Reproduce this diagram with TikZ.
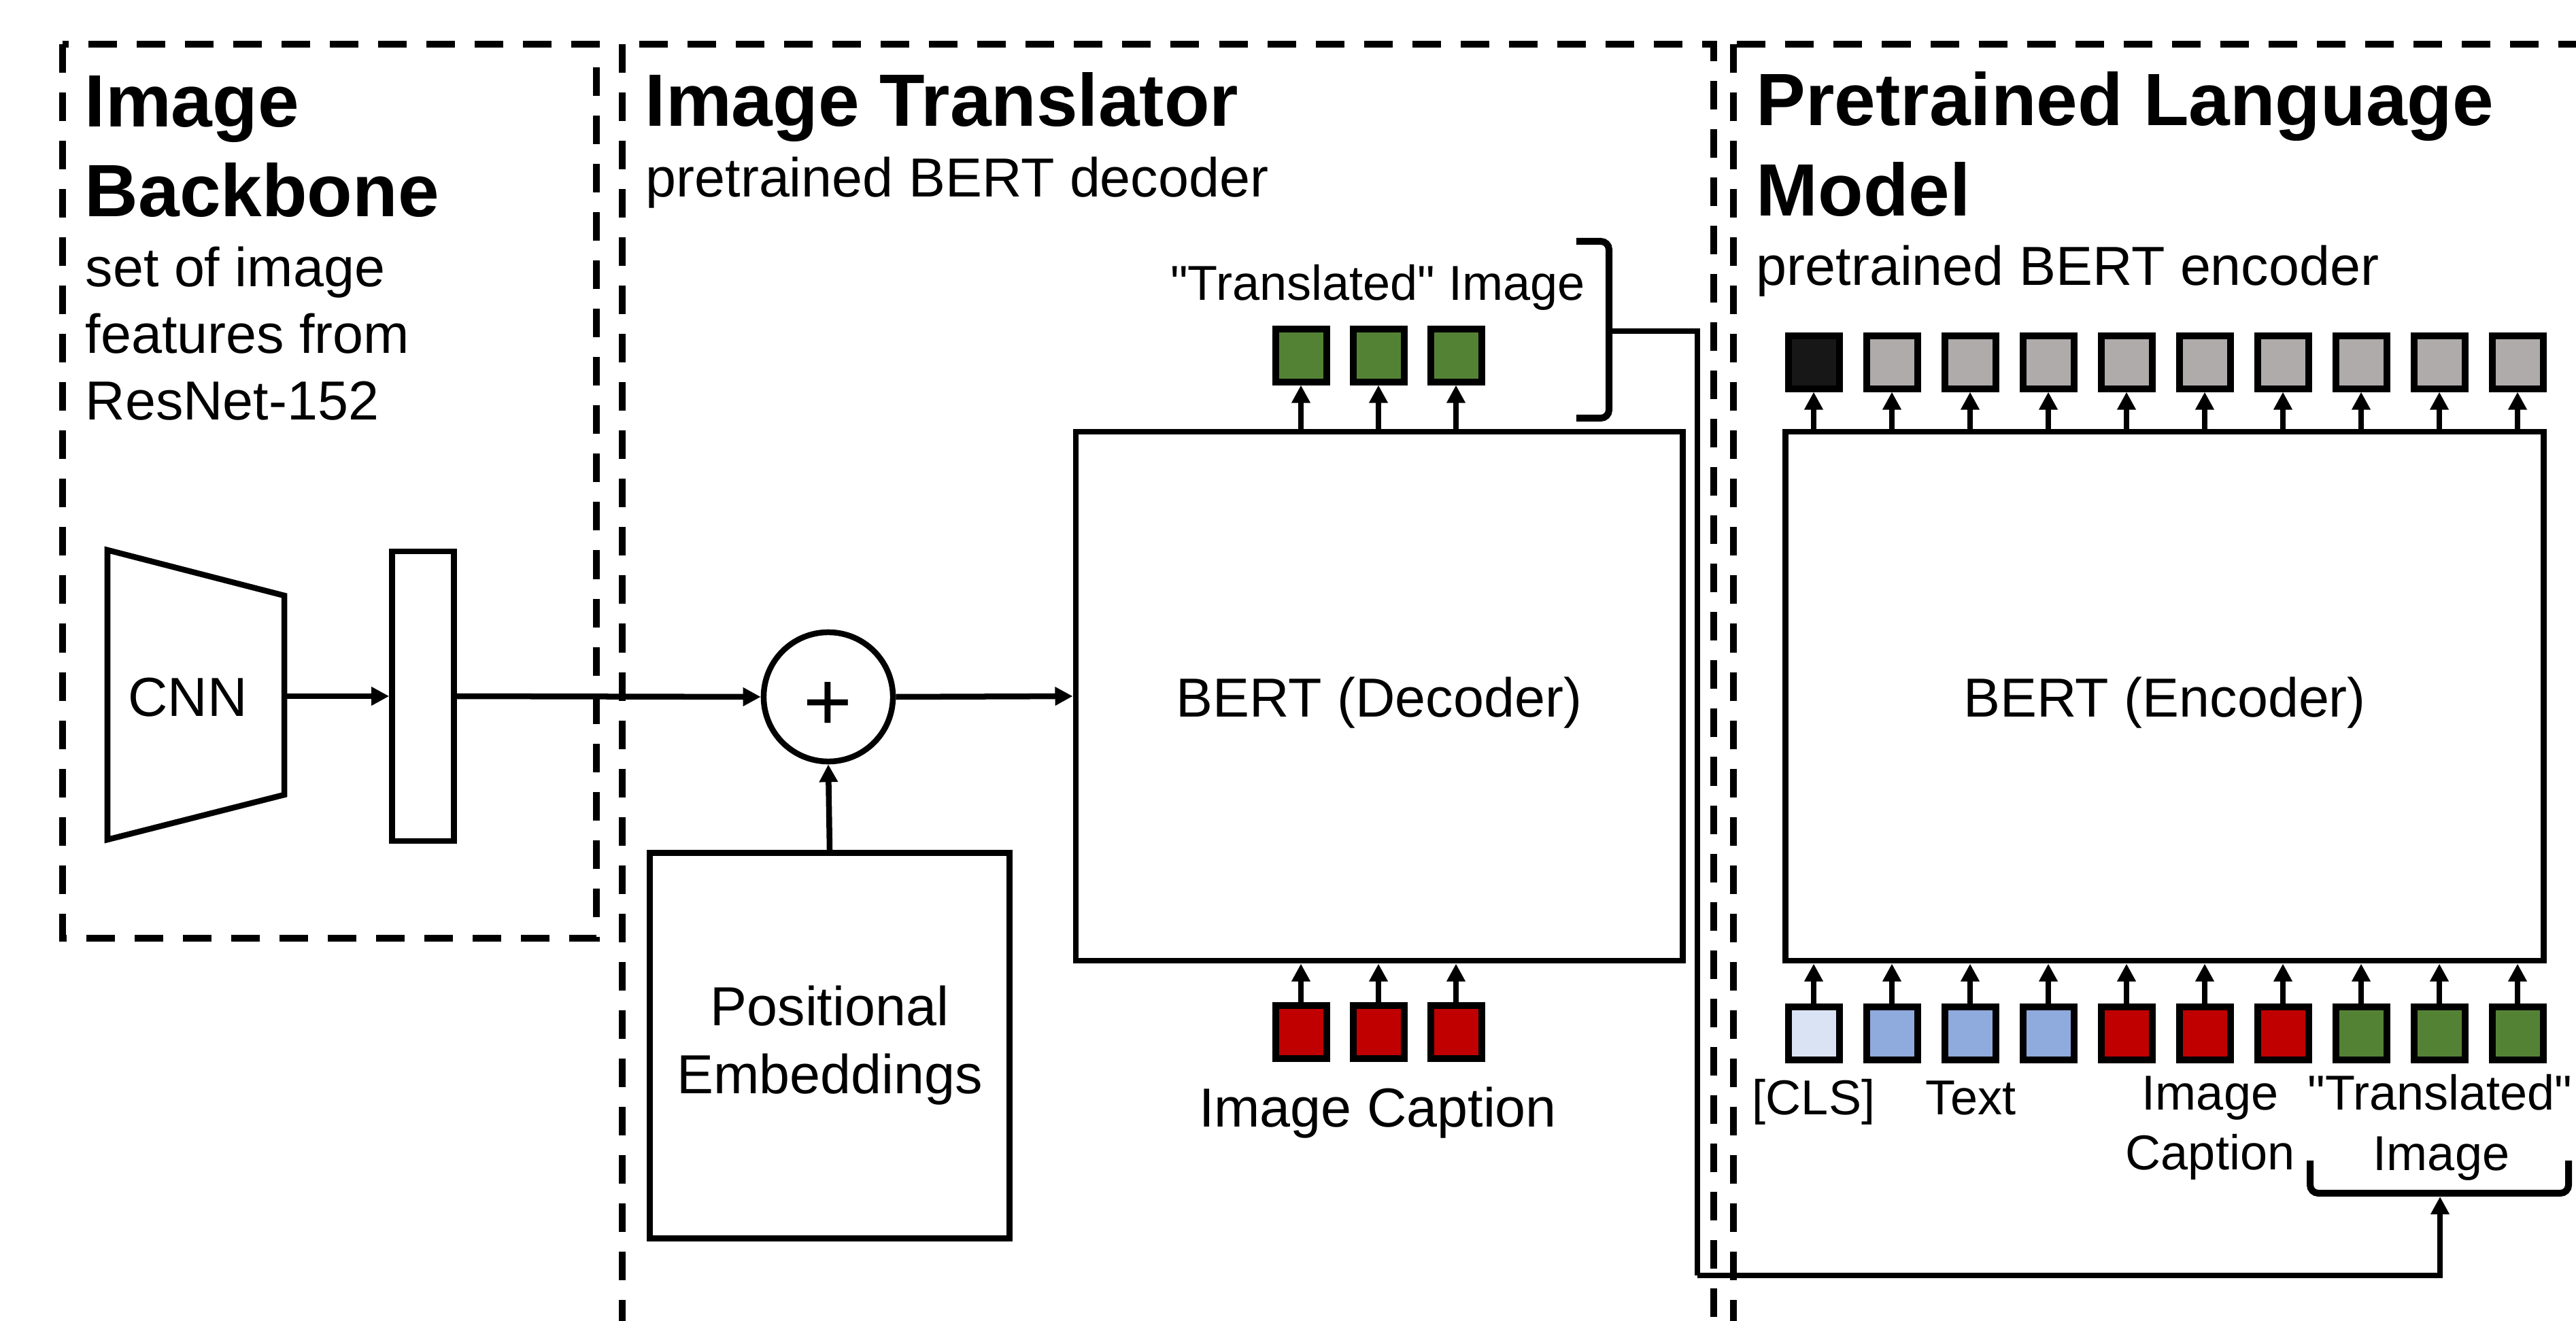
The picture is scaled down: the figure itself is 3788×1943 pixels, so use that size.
\documentclass[tikz,border=0pt]{standalone}
\usepackage{fontspec}
\setmainfont{Liberation Sans}[Ligatures=TeXOff]
\usetikzlibrary{arrows.meta}

% token fill colours
\definecolor{tokgreen}{HTML}{548235}
\definecolor{tokred}{HTML}{C00000}
\definecolor{tokblue}{HTML}{8FAADC}
\definecolor{toklight}{HTML}{DAE3F3}
\definecolor{tokgray}{HTML}{AFABAB}
\definecolor{tokdark}{HTML}{171717}

% type sizes
\newcommand\ttlfont{\fontsize{31}{37}\selectfont\bfseries}
\newcommand\regfont{\fontsize{23}{28.4}\selectfont}
\newcommand\lblfont{\fontsize{20.5}{25}\selectfont}
\newcommand\plusfont{\fontsize{35}{40}\selectfont}

\tikzset{
  dashbox/.style={draw, line width=0.1cm, dash pattern=on 0.42cm off 0.29cm},
  blk/.style={draw, line width=0.085cm, inner sep=0pt, font=\regfont},
  bert/.style={blk, text height=0.76cm, text depth=0.16cm},
  tok/.style={draw, line width=0.1cm, minimum width=0.75cm, minimum height=0.77cm, inner sep=0pt},
  arr/.style={line width=0.085cm, -{Triangle[length=0.26cm,width=0.26cm]}},
  conn/.style={line width=0.085cm},
  brk/.style={line width=0.1cm, rounded corners=0.12cm},
  title/.style={anchor=base west, inner sep=0pt, font=\ttlfont},
  sub/.style={anchor=base west, inner sep=0pt, font=\regfont},
  lbl/.style={anchor=base, inner sep=0pt, font=\lblfont},
}

\begin{document}
\begin{tikzpicture}[x=0.01cm, y=-0.01cm]
\useasboundingbox (0,0) rectangle (3788,1943);
\clip (0,0) rectangle (3788,1943);
\fill[white] (0,0) rectangle (3788,1943);

% ---------- section frames ----------
\draw[dashbox] (92,65) rectangle (877,1380);
\draw[dashbox] (915,65) rectangle (2520,2010);
\draw[dashbox] (2549,65) rectangle (3860,2010);

% ---------- section headings ----------
\node[title] (h1a) at (124,187) {Image};
\node[title] (h1b) at (124,319) {Backbone};
\node[sub] (s1a) at (125,422) {set of image};
\node[sub] (s1b) at (125,520) {features from};
\node[sub] (s1c) at (125,618) {ResNet-152};

\node[title] (h2a) at (948,186) {Image Translator};
\node[sub] (s2a) at (949,290) {pretrained BERT decoder};

\node[title] (h3a) at (2582,185) {Pretrained Language};
\node[title] (h3b) at (2582,318) {Model};
\node[sub] (s3a) at (2582,420) {pretrained BERT encoder};

% ---------- image backbone ----------
\draw[line width=0.085cm, line join=miter] (158,809) -- (418,876) -- (418,1169) -- (158,1235) -- cycle;
\node[inner sep=0pt, font=\regfont] (cnn) at (276,1026) {CNN};
\coordinate (cnnout) at (418,1024);
\node[blk, minimum width=0.91cm, minimum height=4.26cm] (feat) at (622,1024) {};
\draw[arr] (cnnout) -- (feat.west);

% ---------- image translator ----------
\node[draw, circle, line width=0.085cm, minimum size=1.9cm, inner sep=0pt] (sum) at (1218,1025) {};
\node[anchor=base, inner sep=0pt, font=\plusfont] (plus) at (1217,1074) {+};
\node[blk, minimum width=5.29cm, minimum height=5.67cm, align=center] (pos) at (1220,1538) {Positional\\Embeddings};
\node[bert, minimum width=8.92cm, minimum height=7.78cm] (dec) at (2028,1024) {BERT (Decoder)};

\draw[arr] (feat.east) -- (sum.west);
\draw[arr] (pos.north) -- (sum.south);
\draw[arr] (sum.east) -- (dec.west);

\foreach \i/\x in {1/1913,2/2027,3/2141} {
  \node[tok, fill=tokgreen] (do\i) at (\x,523) {};
  \node[tok, fill=tokred] (di\i) at (\x,1518) {};
  \draw[arr] (do\i |- dec.north) -- (do\i.south);
  \draw[arr] (di\i.north) -- (di\i |- dec.south);
}
\node[lbl] (ltop) at (2026,442) {"Translated" Image};
\node[sub, anchor=base] (lcapd) at (2026,1657) {Image Caption};

% bracket gathering the translated image tokens
\draw[brk] (2318,355) -- (2366,355) -- (2366,615) -- (2318,615);
\coordinate (brkT) at (2366,487);

% ---------- pretrained language model ----------
\node[bert, minimum width=11.14cm, minimum height=7.78cm] (enc) at (3183,1024) {BERT (Encoder)};

\foreach \i/\co/\ci in {0/tokdark/toklight,1/tokgray/tokblue,2/tokgray/tokblue,3/tokgray/tokblue,
    4/tokgray/tokred,5/tokgray/tokred,6/tokgray/tokred,7/tokgray/tokgreen,8/tokgray/tokgreen,9/tokgray/tokgreen} {
  \node[tok, fill=\co] (eo\i) at ({2667+115*\i},533) {};
  \node[tok, fill=\ci] (ei\i) at ({2667+115*\i},1520) {};
  \draw[arr] (eo\i |- enc.north) -- (eo\i.south);
  \draw[arr] (ei\i.north) -- (ei\i |- enc.south);
}

\node[lbl] (lcls) at (2667,1639) {[CLS]};
\node[lbl] (ltext) at (2898,1639) {Text};
\node[lbl] (lcap1) at (3250,1632) {Image};
\node[lbl] (lcap2) at (3250,1720) {Caption};
\node[lbl] (ltr1) at (3588,1632) {"Translated"};
\node[lbl] (ltr2) at (3590,1721) {Image};

% bracket under the translated image tokens
\draw[brk] (3397,1707) -- (3397,1755) -- (3777,1755) -- (3777,1707);
\coordinate (brkB) at (3588,1760);

% route of the translated image into the encoder input
\coordinate (via) at (2496,1876);
\draw[conn] (brkT) -| (via);
\draw[arr] (via) -| (brkB);
\end{tikzpicture}
\end{document}
